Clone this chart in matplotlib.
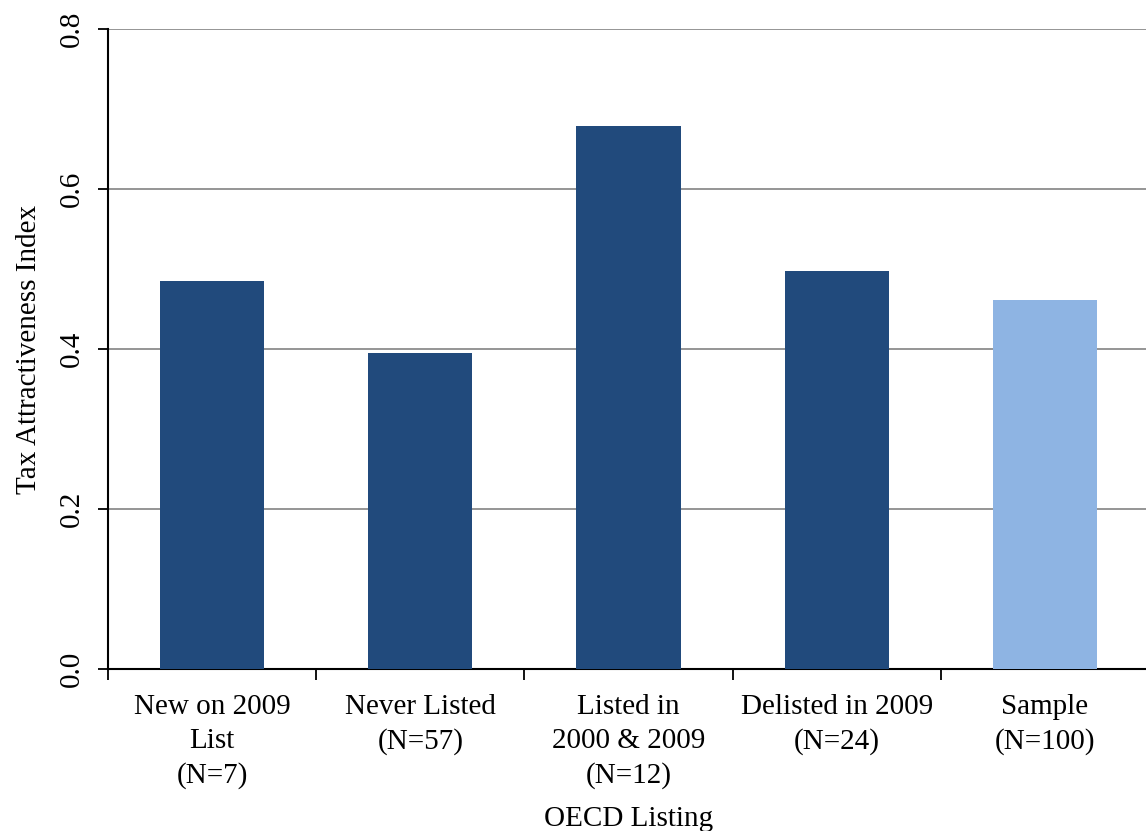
import matplotlib
matplotlib.use("Agg")
import matplotlib.pyplot as plt
import numpy as np

categories = ["New on 2009\nList\n(N=7)", "Never Listed\n(N=57)", "Listed in\n2000 & 2009\n(N=12)",
              "Delisted in 2009\n(N=24)", "Sample\n(N=100)"]
values = [0.485, 0.395, 0.679, 0.498, 0.461]
colors = ["#214A7C", "#214A7C", "#214A7C", "#214A7C", "#8EB4E3"]
yticks = [0.0, 0.2, 0.4, 0.6, 0.8]

plt.rcParams['font.family'] = ['Liberation Serif', 'DejaVu Serif']

fig = plt.figure(figsize=(11.46, 8.31), dpi=100)
ax = fig.add_axes([108/1146, 1 - 669/831, (1149 - 108)/1146, (669 - 29)/831])

x = np.arange(len(categories))
ax.bar(x, values, width=0.5, color=colors, zorder=3)
ax.set_xlim(-0.5, len(categories) - 0.5)
ax.set_ylim(0, 0.8)
ax.set_yticks(yticks)
ax.set_yticklabels([f"{v:.1f}" for v in yticks], rotation=90, va='center', fontsize=21)
ax.yaxis.grid(True, color="#8C8C8C", linewidth=1.3, zorder=0)
ax.set_axisbelow(True)

ax.set_xticks(x)
ax.set_xticklabels(categories, fontsize=21, linespacing=1.4)
ax.tick_params(axis='x', length=0, pad=18)
ax.set_xticks(np.arange(len(categories) + 1) - 0.5, minor=True)
ax.tick_params(axis='x', which='minor', length=8, width=1.3, direction='out')
ax.tick_params(axis='y', length=7, width=1.3, direction='out', pad=10)

for s in ['top', 'right']:
    ax.spines[s].set_visible(False)
for s in ['left', 'bottom']:
    ax.spines[s].set_linewidth(1.5)

ax.set_ylabel("Tax Attractiveness Index", fontsize=21, labelpad=12)
ax.set_xlabel("OECD Listing", fontsize=21, labelpad=12)

fig.savefig("out.png", dpi=100)
